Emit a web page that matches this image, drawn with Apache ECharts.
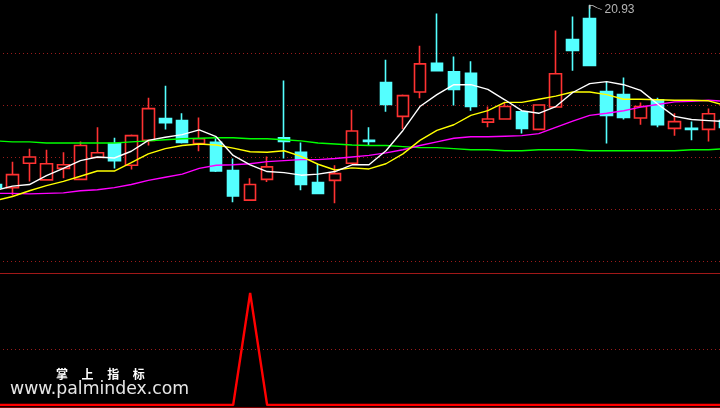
<!DOCTYPE html>
<html><head><meta charset="utf-8">
<style>html,body{margin:0;padding:0;background:#000}#c{width:720px;height:408px}</style>
<script src="https://cdn.jsdelivr.net/npm/echarts@6/dist/echarts.min.js"></script>
</head><body><div id="c"></div>
<script>
// [open, close, low, high]
const candles = [
[17.48,17.42,17.30,17.60],[17.42,17.67,17.27,17.92],[17.89,18.01,17.54,18.17],[17.57,17.88,17.57,18.15],
[17.79,17.86,17.60,18.10],[17.58,18.23,17.58,18.31],[18.00,18.09,18.00,18.58],[18.27,17.94,17.79,18.38],
[17.85,18.42,17.77,18.44],[18.33,18.94,18.23,19.15],[18.75,18.67,18.54,19.38],[18.71,18.29,18.27,18.85],
[18.27,18.36,18.12,18.77],[18.29,17.74,17.72,18.37],[17.75,17.26,17.14,17.98],[17.18,17.48,17.18,17.60],
[17.58,17.82,17.53,18.02],[18.38,18.31,17.98,19.48],[18.10,17.48,17.37,18.29],[17.52,17.31,17.31,17.88],
[17.56,17.69,17.12,17.85],[17.89,18.51,17.89,18.92],[18.33,18.31,18.23,18.58],[19.44,19.02,18.88,19.88],
[18.79,19.19,18.55,19.21],[19.26,19.80,19.14,20.15],[19.81,19.67,19.67,20.77],[19.65,19.31,19.00,19.94],
[19.62,18.98,18.90,19.85],[18.68,18.74,18.58,18.98],[18.74,18.98,18.74,19.06],[18.88,18.56,18.46,18.88],
[18.54,19.01,18.54,19.02],[18.97,19.61,18.97,20.44],[20.27,20.06,19.67,20.71],[20.67,19.77,19.77,20.93],
[19.27,18.81,18.27,19.46],[19.21,18.77,18.73,19.54],[18.76,18.98,18.63,19.06],[19.11,18.63,18.58,19.15],
[18.56,18.69,18.42,18.85],[18.56,18.54,18.33,18.69],[18.54,18.84,18.31,18.94],[18.71,18.58,18.50,18.94]
];
const maWhite = [17.37,17.45,17.48,17.65,17.79,17.94,18.01,17.99,18.12,18.33,18.39,18.44,18.53,18.40,18.04,17.86,17.73,17.71,17.66,17.68,17.73,17.86,17.86,18.13,18.52,18.98,19.21,19.40,19.40,19.31,19.11,18.90,18.85,18.98,19.25,19.42,19.46,19.40,19.29,19.03,18.79,18.73,18.71,18.69];
const maYellow = [17.17,17.25,17.36,17.46,17.54,17.64,17.74,17.74,17.90,18.07,18.17,18.23,18.26,18.24,18.18,18.11,18.10,18.13,18.02,17.87,17.76,17.80,17.78,17.88,18.07,18.33,18.52,18.63,18.81,18.90,19.06,19.06,19.12,19.18,19.26,19.26,19.21,19.12,19.12,19.11,19.10,19.10,19.09,19.00];
const maMagenta = [17.31,17.31,17.30,17.31,17.32,17.36,17.38,17.42,17.48,17.56,17.62,17.68,17.79,17.85,17.86,17.88,17.92,17.94,17.96,17.96,17.98,18.01,18.04,18.09,18.15,18.23,18.30,18.37,18.40,18.40,18.41,18.42,18.46,18.58,18.70,18.81,18.85,18.90,18.97,19.02,19.07,19.08,19.10,19.08];
const maGreen = [18.32,18.30,18.30,18.28,18.28,18.28,18.28,18.28,18.30,18.32,18.34,18.36,18.37,18.38,18.38,18.36,18.36,18.34,18.32,18.28,18.26,18.24,18.23,18.23,18.21,18.19,18.19,18.17,18.15,18.15,18.13,18.13,18.15,18.15,18.15,18.13,18.13,18.13,18.13,18.13,18.13,18.15,18.15,18.17];
const signal = [0,0,0,0,0,0,0,0,0,0,0,0,0,0,0,1,0,0,0,0,0,0,0,0,0,0,0,0,0,0,0,0,0,0,0,0,0,0,0,0,0,0,0,0];
const categories = candles.map((_, i) => String(i));
const peakLabel = '20.93';
const watermarkCn = '掌     上     指     标';
const watermarkEn = 'www.palmindex.com';

const GRID_RED = '#9a1c1c';
const maSeries = (data, color) => ({type:'line', data, xAxisIndex:0, yAxisIndex:0, showSymbol:false, symbol:'none', silent:true,
  lineStyle:{color, width:1.4}, z:5});
const chart = echarts.init(document.getElementById('c'), null, {renderer:'canvas'});
chart.setOption({
  animation:false, backgroundColor:'#000',
  grid:[{left:-13, top:1.5, width:747, height:260, outerBoundsMode:'none'},
        {left:-13, top:273.5, width:747, height:131.5, outerBoundsMode:'none'}],
  xAxis:[
    {type:'category', gridIndex:0, data:categories, show:false},
    {type:'category', gridIndex:1, data:categories, position:'top', boundaryGap:true,
     axisLine:{show:true, onZero:false, lineStyle:{color:'#a01818', width:1}}, axisTick:{show:false}, axisLabel:{show:false}}
  ],
  yAxis:[
    {type:'value', gridIndex:0, min:16, max:21, interval:1, scale:true,
     axisLine:{show:false}, axisTick:{show:false}, axisLabel:{show:false},
     splitLine:{show:true, showMaxLine:false, lineStyle:{color:GRID_RED, width:1, type:[1,3]}}},
    {type:'value', gridIndex:1, min:0, max:1.174,
     axisLine:{show:false}, axisTick:{show:false}, axisLabel:{show:false}, splitLine:{show:false}}
  ],
  series:[
    {type:'candlestick', data:candles, xAxisIndex:0, yAxisIndex:0, barWidth:12, silent:true, z:2,
     itemStyle:{color:'#000', color0:'#54FFFF', borderColor:'#FF3232', borderColor0:'#54FFFF', borderWidth:1.6},
     markPoint:{silent:true, animation:false, symbol:'path://M0 0L0 4M0 1L3 1L7 3L12 5', symbolSize:[12,5], symbolOffset:[6,2],
       itemStyle:{color:'transparent', borderColor:'#c8c8c8', borderWidth:1},
       label:{show:true, position:'right', distance:2, offset:[0,3], formatter:peakLabel, color:'#b4b4b4', fontSize:12, fontFamily:'"Liberation Sans",Arial'},
       data:[{coord:['35',20.93], value:20.93}]}},
    maSeries(maGreen,'#00FF00'),
    maSeries(maMagenta,'#FF00FF'),
    maSeries(maYellow,'#FFFF00'),
    maSeries(maWhite,'#FFFFFF'),
    {type:'line', data:signal, xAxisIndex:1, yAxisIndex:1, showSymbol:false, symbol:'none', silent:true,
     lineStyle:{color:'#FF0000', width:2.4}, z:5,
     markLine:{silent:true, animation:false, symbol:'none', label:{show:false},
       lineStyle:{color:GRID_RED, width:1, type:[1,3]}, data:[{yAxis:0.5}]}}
  ],
  graphic:[
    {type:'text', silent:true, left:56, top:368, style:{text:watermarkCn, fill:'#fff', font:'bold 12px "Noto Sans CJK SC"'}},
    {type:'text', silent:true, left:10, top:381, style:{text:watermarkEn, fill:'#e6e6e6', font:'17.3px "DejaVu Sans"'}},
    {type:'line', silent:true, shape:{x1:0,y1:407.5,x2:720,y2:407.5}, style:{stroke:'#7a0000', lineWidth:1}}
  ]
});
</script></body></html>
